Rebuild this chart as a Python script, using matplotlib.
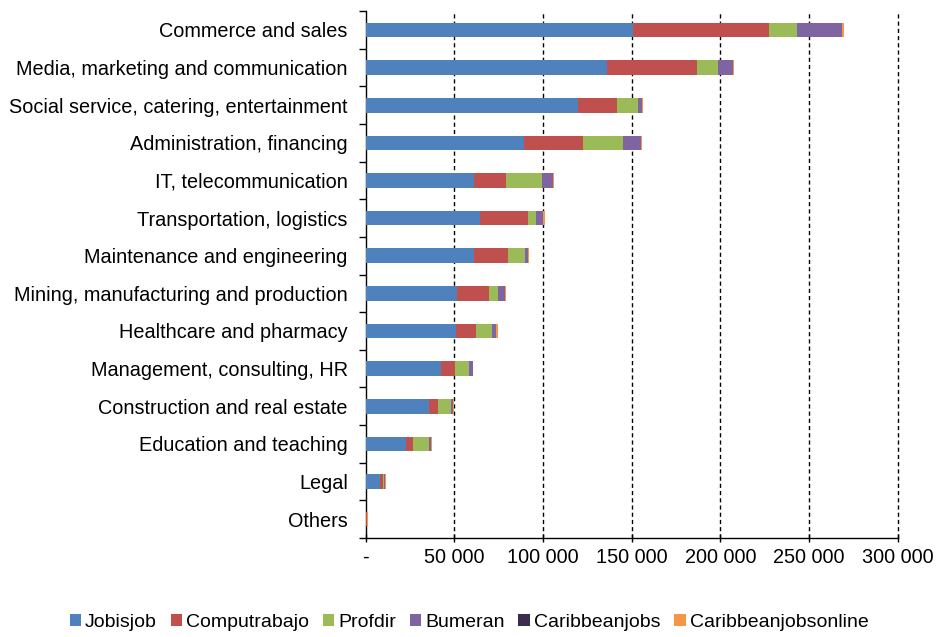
import matplotlib
matplotlib.use("Agg")
import matplotlib.pyplot as plt
import numpy as np

categories = [
    "Commerce and sales",
    "Media, marketing and communication",
    "Social service, catering, entertainment",
    "Administration, financing",
    "IT, telecommunication",
    "Transportation, logistics",
    "Maintenance and engineering",
    "Mining, manufacturing and production",
    "Healthcare and pharmacy",
    "Management, consulting, HR",
    "Construction and real estate",
    "Education and teaching",
    "Legal",
    "Others",
]

jobisjob = [150600, 136000, 119800, 89400, 61300, 64500, 61300, 51400, 50600, 42400, 35900, 22900, 8100, 0]
computrabajo = [77100, 51000, 21700, 33100, 18000, 27000, 19000, 18200, 11600, 7800, 4800, 3800, 1800, 500]
profdir = [15700, 11500, 12200, 22700, 19800, 4700, 9500, 4700, 9000, 7900, 7400, 9000, 400, 0]
bumeran = [25400, 8700, 2100, 9900, 6400, 4000, 1700, 4200, 2500, 2100, 800, 800, 600, 0]
caribbeanjobs = [0, 0, 0, 0, 0, 0, 0, 0, 0, 0, 0, 0, 0, 0]
caribbeanjobsonline = [800, 600, 400, 600, 600, 600, 400, 400, 600, 400, 600, 600, 400, 1000]

series_names = ["Jobisjob", "Computrabajo", "Profdir", "Bumeran", "Caribbeanjobs", "Caribbeanjobsonline"]
series_values = [jobisjob, computrabajo, profdir, bumeran, caribbeanjobs, caribbeanjobsonline]
series_colors = ["#4F81BD", "#C0504D", "#9BBB59", "#8064A2", "#3B2D51", "#F79646"]

xticks = [0, 50000, 100000, 150000, 200000, 250000, 300000]
xtick_labels = ["-", "50 000", "100 000", "150 000", "200 000", "250 000", "300 000"]

plt.rcParams["font.family"] = ["Liberation Sans", "DejaVu Sans"]

fig = plt.figure(figsize=(9.38, 6.37), dpi=100)
ax = fig.add_axes([0.390, 0.1555, 0.567, 0.827])

y = np.arange(len(categories))
left = np.zeros(len(categories))
for name, vals, col in zip(series_names, series_values, series_colors):
    vals = np.array(vals, dtype=float)
    ax.barh(y, vals, left=left, height=0.39, color=col, label=name,
            edgecolor="none", zorder=3)
    left += vals

ax.set_ylim(len(categories) - 0.5, -0.5)
ax.set_xlim(0, 300000)

ax.set_yticks(y)
ax.set_yticklabels(categories, fontsize=14.3)
ax.tick_params(axis="y", which="major", length=0, pad=13)
ax.set_yticks(np.arange(-0.5, len(categories), 1.0), minor=True)
ax.tick_params(axis="y", which="minor", length=5, width=1, direction="out")

ax.set_xticks(xticks)
ax.set_xticklabels(xtick_labels, fontsize=14.3)
ax.tick_params(axis="x", which="major", length=6, width=1, direction="inout", pad=4)

for xv in xticks[1:]:
    ax.axvline(xv, color="black", linestyle=(0, (3, 2.2)), linewidth=1,
               zorder=1, clip_on=False)

for side in ["top", "right"]:
    ax.spines[side].set_visible(False)
ax.spines["left"].set_linewidth(1)
ax.spines["bottom"].set_linewidth(1)

handles, labels = ax.get_legend_handles_labels()
fig.legend(handles, labels, loc="center", bbox_to_anchor=(0.5, 0.023),
           ncol=6, frameon=False, fontsize=14, handlelength=0.6,
           handleheight=0.6, handletextpad=0.2, columnspacing=0.7)

fig.savefig("out.png", dpi=100)
